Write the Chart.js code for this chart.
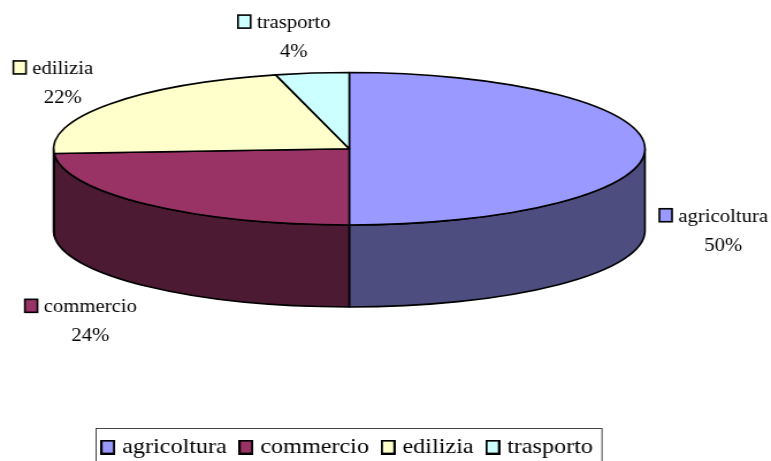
<!DOCTYPE html>
<html>
<head>
<meta charset="utf-8">
<script src="https://cdn.jsdelivr.net/npm/chart.js@4/dist/chart.umd.min.js"></script>
<style>
  html, body { margin: 0; padding: 0; background: #fff; overflow: hidden; }
  /* the original chart is stretched horizontally, text included */
  #wrap { width: 670px; height: 461px; transform: scaleX(1.1507); transform-origin: 0 0; }
  #warm { position: absolute; left: -999px; top: 0; font-family: "Liberation Serif"; font-size: 20px; }
</style>
</head>
<body>
<span id="warm">agricoltura 50%</span>
<div id="wrap"><canvas id="pieChart" width="670" height="461"></canvas></div>
<script>
const sectors = ["agricoltura", "commercio", "edilizia", "trasporto"];
const shares = [50, 24, 22, 4];
const topColors = ["#9999FF", "#993366", "#FFFFCC", "#CCFFFF"];
const sideColors = ["#4D4D80", "#4D1A33", "#80805F", "#668080"];
// where each label sits, relative to the rim point in the middle of its slice
const labelOffsets = [[68, 73], [-49, 108], [-41, -30], [-16, -45]];

const FONT = "Liberation Serif, Times New Roman, serif";

// geometry of the tilted pie, taken from the chart area
function pieGeometry(chart, opts) {
  const area = chart.chartArea;
  const rx = (area.right - area.left) / 2;
  return {
    cx: area.left + rx,
    cy: area.top + opts.ry,
    rx: rx,
    ry: opts.ry,
    depth: opts.depth,
  };
}

// small square swatch used as legend point style (lets the text sit closer)
function swatch(color) {
  const c = document.createElement("canvas");
  c.width = 13;
  c.height = 15;
  const g = c.getContext("2d");
  g.fillStyle = "#000";
  g.fillRect(0, 0, 13, 15);
  g.fillStyle = color;
  g.fillRect(2, 2, 9, 11);
  return c;
}

// draws the pie as a 3D disc using the angles Chart.js computed for each arc
const pie3d = {
  id: "pie3d",
  beforeDatasetsDraw(chart, args, opts) {
    const ctx = chart.ctx;
    const arcs = chart.getDatasetMeta(0).data;
    const { cx, cy, rx, ry, depth } = pieGeometry(chart, opts);

    ctx.save();
    ctx.lineWidth = opts.lineWidth;
    ctx.strokeStyle = "#000";
    ctx.lineJoin = "round";

    // side walls, only the front half is visible
    arcs.forEach((arc, i) => {
      const s = Math.max(arc.startAngle, 0);
      const e = Math.min(arc.endAngle, Math.PI);
      if (e <= s) return;
      ctx.beginPath();
      ctx.ellipse(cx, cy, rx, ry, 0, s, e);
      ctx.lineTo(cx + rx * Math.cos(e), cy + depth + ry * Math.sin(e));
      ctx.ellipse(cx, cy + depth, rx, ry, 0, e, s, true);
      ctx.closePath();
      ctx.fillStyle = sideColors[i];
      ctx.fill();
      ctx.stroke();
    });

    // top faces
    arcs.forEach((arc, i) => {
      ctx.beginPath();
      ctx.moveTo(cx, cy);
      ctx.ellipse(cx, cy, rx, ry, 0, arc.startAngle, arc.endAngle);
      ctx.closePath();
      ctx.fillStyle = topColors[i];
      ctx.fill();
      ctx.stroke();
    });
    ctx.restore();
    return false;
  },

  afterDraw(chart, args, opts) {
    const ctx = chart.ctx;
    const arcs = chart.getDatasetMeta(0).data;
    const { cx, cy, rx, ry } = pieGeometry(chart, opts);
    const total = shares.reduce((a, b) => a + b, 0);

    ctx.save();
    ctx.font = opts.labelSize + "px " + FONT;
    ctx.textBaseline = "alphabetic";
    ctx.lineWidth = 1.6;
    ctx.strokeStyle = "#000";

    // data labels: colour square + name, percentage underneath
    arcs.forEach((arc, i) => {
      const mid = (arc.startAngle + arc.endAngle) / 2;
      const x = cx + rx * Math.cos(mid) + labelOffsets[i][0];
      const y = cy + ry * Math.sin(mid) + labelOffsets[i][1];
      const name = sectors[i];
      const pct = Math.round((shares[i] / total) * 100) + "%";
      const w = ctx.measureText(name).width;
      const left = x - w / 2;

      ctx.fillStyle = topColors[i];
      ctx.fillRect(left - 16.5, y - 13, 11, 13);
      ctx.strokeRect(left - 16.5, y - 13, 11, 13);

      ctx.fillStyle = "#000";
      ctx.textAlign = "left";
      ctx.fillText(name, left, y);
      ctx.textAlign = "center";
      ctx.fillText(pct, x, y + opts.lineGap);
    });

    // frame round the legend
    const boxes = chart.legend.legendHitBoxes;
    if (boxes && boxes.length) {
      const first = boxes[0];
      const last = boxes[boxes.length - 1];
      ctx.lineWidth = 1;
      ctx.strokeStyle = "#444";
      ctx.strokeRect(
        Math.round(first.left - 9) + 0.5,
        Math.round(first.top - 9) + 0.5,
        last.left + last.width - first.left + 16,
        50
      );
    }
    ctx.restore();
  },
};

function drawChart() {
  const ctx = document.getElementById("pieChart").getContext("2d");
  const pieLabels = Chart.overrides.pie.plugins.legend.labels.generateLabels;
  new Chart(ctx, {
    type: "pie",
    data: {
      labels: sectors,
      datasets: [
        {
          data: shares,
          backgroundColor: topColors,
          borderColor: "#000",
          borderWidth: 2,
        },
      ],
    },
    options: {
      responsive: false,
      animation: false,
      events: [],
      layout: {
        padding: { left: 46.5, right: 109.5, top: 72.5, bottom: 0 },
      },
      plugins: {
        tooltip: { enabled: false },
        legend: {
          position: "bottom",
          fullSize: false,
          maxHeight: 39,
          labels: {
            usePointStyle: true,
            pointStyleWidth: 4,
            boxHeight: 15,
            padding: 14.6,
            color: "#000",
            font: { family: FONT, size: 21 },
            generateLabels(chart) {
              return pieLabels(chart).map((item, i) => {
                item.pointStyle = swatch(topColors[i]);
                return item;
              });
            },
          },
        },
        pie3d: {
          ry: 76.25,
          depth: 82,
          lineWidth: 1.6,
          labelSize: 18,
          lineGap: 29,
        },
      },
    },
    plugins: [pie3d],
  });
}

document.fonts.load("20px 'Liberation Serif'").then(drawChart, drawChart);
</script>
</body>
</html>
